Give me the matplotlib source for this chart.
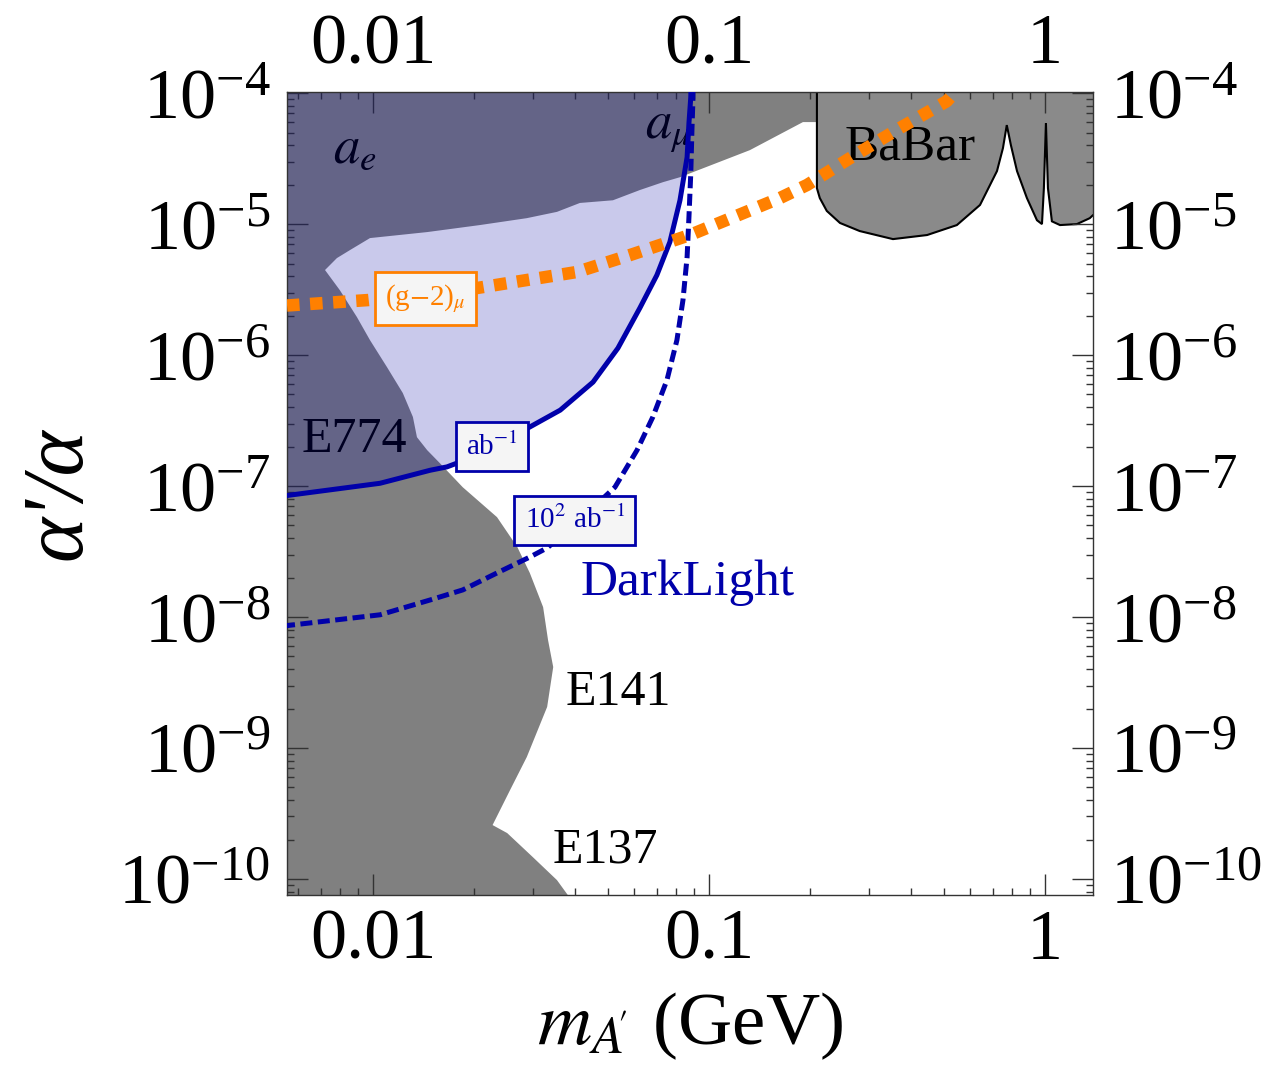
import matplotlib
matplotlib.use("Agg")
import matplotlib.pyplot as plt
from matplotlib.ticker import LogLocator, FixedLocator, FixedFormatter, LogFormatterMathtext, NullFormatter

plt.rcParams['font.family'] = ['Liberation Serif', 'DejaVu Serif']
plt.rcParams['mathtext.fontset'] = 'stix'

# axis ranges
x_lim = [0.00555, 1.39]
y_lim = [7.55e-11, 1.02e-4]

# excluded region (beam dumps E137/E141/E774, a_e, a_mu), traced counter-clockwise
excl_m = [0.001, 0.0395, 0.038, 0.0353, 0.0299, 0.0251, 0.0227, 0.0256, 0.0287, 0.0330, 0.0344, 0.0332,
          0.0321, 0.0293, 0.0269, 0.0234, 0.0185, 0.0158, 0.0145, 0.01352, 0.01315, 0.01227, 0.01101,
          0.0098, 0.00896, 0.00797, 0.0072, 0.00781, 0.00855, 0.0098, 0.0145, 0.0208, 0.0287, 0.0353,
          0.0413, 0.0518, 0.0623, 0.0730, 0.0820, 0.1324, 0.1905, 0.2096, 0.2096, 0.001]
excl_a = [1e-11, 6e-11, 7.55e-11, 9.8e-11, 1.47e-10, 2.24e-10, 2.58e-10, 4.78e-10, 8.53e-10, 2.06e-9, 4.15e-9,
          6.67e-9, 1.19e-8, 2.17e-8, 3.42e-8, 5.79e-8, 9.8e-8, 1.50e-7, 1.88e-7, 2.36e-7, 3.37e-7, 5.13e-7,
          8.09e-7, 1.30e-6, 1.95e-6, 3.13e-6, 4.46e-6, 5.5e-6, 6.34e-6, 7.82e-6, 8.69e-6, 9.83e-6, 1.11e-5,
          1.24e-5, 1.45e-5, 1.52e-5, 1.82e-5, 2.09e-5, 2.28e-5, 3.67e-5, 6.01e-5, 6.01e-5, 1e-3, 1e-3]

# BaBar exclusion
babar_m = [0.2096, 0.2096, 0.2138, 0.2243, 0.2455, 0.281, 0.353, 0.446, 0.547, 0.641, 0.720, 0.750, 0.770,
           0.792, 0.826, 0.884, 0.947, 0.980, 0.993, 1.007, 1.021, 1.049, 1.109, 1.245, 1.36, 1.39, 1.5, 1.5]
babar_a = [1e-3, 1.88e-5, 1.58e-5, 1.26e-5, 1.02e-5, 8.85e-6, 7.68e-6, 8.25e-6, 9.83e-6, 1.40e-5, 2.54e-5,
           3.80e-5, 5.70e-5, 4.01e-5, 2.54e-5, 1.58e-5, 1.07e-5, 1.0e-5, 1.88e-5, 5.91e-5, 1.88e-5, 1.05e-5,
           9.83e-6, 1.0e-5, 1.11e-5, 1.17e-5, 1.2e-5, 1e-3]

# DarkLight reach, 1 ab^-1 (solid) and 10^2 ab^-1 (dashed)
dl1_m = [0.0054, 0.0105, 0.0148, 0.0166, 0.0218, 0.0289, 0.0361, 0.0452, 0.0536, 0.0623, 0.0700, 0.0765,
         0.0820, 0.0861, 0.0872, 0.0883, 0.0886]
dl1_a = [8.39e-8, 1.05e-7, 1.32e-7, 1.40e-7, 1.82e-7, 2.77e-7, 3.80e-7, 6.22e-7, 1.13e-6, 2.29e-6, 4.08e-6,
         7.29e-6, 1.52e-5, 3.24e-5, 5.9e-5, 9.3e-5, 1.3e-4]
dl100_m = [0.0054, 0.0105, 0.0148, 0.0185, 0.0234, 0.0293, 0.0330, 0.0413, 0.0525, 0.0611, 0.0681, 0.0750,
           0.0803, 0.0837, 0.0861, 0.0872, 0.0883, 0.0890, 0.0896, 0.0897]
dl100_a = [8.53e-9, 1.04e-8, 1.35e-8, 1.61e-8, 2.17e-8, 2.87e-8, 3.37e-8, 5.5e-8, 9.8e-8, 1.88e-7, 3.37e-7,
           6.44e-7, 1.30e-6, 2.63e-6, 5.6e-6, 1.13e-5, 2.45e-5, 5.22e-5, 8.85e-5, 1.3e-4]

# (g-2)_mu favoured band
gm2_m = [0.00555, 0.00966, 0.0204, 0.0405, 0.0582, 0.0877, 0.1626, 0.196, 0.2686, 0.370, 0.511, 0.54]
gm2_a = [2.39e-6, 2.63e-6, 3.25e-6, 4.31e-6, 5.8e-6, 8.25e-6, 1.58e-5, 1.99e-5, 3.30e-5, 5.41e-5, 8.69e-5,
         1.02e-4]

x_ticks = [0.01, 0.1, 1]
x_tick_labels = ['0.01', '0.1', '1']
y_ticks = [1e-10, 1e-9, 1e-8, 1e-7, 1e-6, 1e-5, 1e-4]

fig = plt.figure(figsize=(12.74, 10.81), dpi=100)
ax = fig.add_axes([0.2253, 0.1721, 0.6326, 0.7428])
ax.set_xscale('log')
ax.set_yscale('log')

ax.fill(excl_m, excl_a, color='#808080', lw=0, zorder=1)
ax.fill(babar_m, babar_a, facecolor='#8a8a8a', edgecolor='black', lw=1.5, zorder=1)

# labels drawn under the DarkLight overlay
ax.text(0.00883, 3.67e-5, r'$a_e$', fontsize=38, color='black', ha='center', va='center', zorder=1.5)
ax.text(0.0755, 5.22e-5, r'$a_\mu$', fontsize=38, color='black', ha='center', va='center', zorder=1.5)
ax.text(0.00883, 2.24e-7, 'E774', fontsize=36, color='black', ha='center', va='center', zorder=1.5)
ax.text(0.396, 3.88e-5, 'BaBar', fontsize=37, color='black', ha='center', va='center', zorder=1.5)

# DarkLight 1 ab^-1 region
ax.fill(dl1_m + [0.001], dl1_a + [1e-3], color='#0000a4', alpha=0.21, lw=0, zorder=2)
ax.plot(dl1_m, dl1_a, color='#0000aa', lw=3.6, zorder=3)
ax.plot(dl100_m, dl100_a, color='#0000aa', lw=3.6, dashes=(2.4, 1.1), zorder=3)
ax.plot(gm2_m, gm2_a, color='#ff8000', lw=9, dashes=(1.0, 0.85), dash_capstyle='butt', zorder=3)

ax.text(0.0536, 2.63e-9, 'E141', fontsize=36, color='black', ha='center', va='center')
ax.text(0.0493, 1.66e-10, 'E137', fontsize=36, color='black', ha='center', va='center')
ax.text(0.0866, 1.82e-8, 'DarkLight', fontsize=37, color='#0000aa', ha='center', va='center')

box_g = dict(boxstyle='square,pad=0.35', facecolor='#f5f5f5', edgecolor='#ff8000', lw=2)
box_b = dict(boxstyle='square,pad=0.35', facecolor='#f5f5f5', edgecolor='#0000aa', lw=2)
ax.text(0.0143, 2.72e-6, r'(g$-$2)$_\mu$', fontsize=21, color='#ff8000', ha='center', va='center',
        bbox=box_g, zorder=4)
ax.text(0.0226, 1.99e-7, r'ab$^{-1}$', fontsize=21, color='#0000aa', ha='center', va='center',
        bbox=box_b, zorder=4)
ax.text(0.0399, 5.49e-8, r'10$^2$ ab$^{-1}$', fontsize=21, color='#0000aa', ha='center', va='center',
        bbox=box_b, zorder=4)

ax.set_xlim(x_lim)
ax.set_ylim(y_lim)

ax.xaxis.set_major_locator(FixedLocator(x_ticks))
ax.xaxis.set_major_formatter(FixedFormatter(x_tick_labels))
ax.xaxis.set_minor_locator(LogLocator(base=10, subs=range(2, 10), numticks=20))
ax.xaxis.set_minor_formatter(NullFormatter())
ax.yaxis.set_major_locator(FixedLocator(y_ticks))
ax.yaxis.set_major_formatter(LogFormatterMathtext())
ax.yaxis.set_minor_locator(LogLocator(base=10, subs=range(2, 10), numticks=20))
ax.yaxis.set_minor_formatter(NullFormatter())

ax.tick_params(which='both', direction='in', top=True, right=True, labeltop=True, labelright=True,
               color='#333333', width=1)
ax.tick_params(which='major', length=15, labelsize=52)
ax.tick_params(which='minor', length=5)
ax.tick_params(axis='x', which='major', pad=10)
ax.tick_params(axis='y', which='major', pad=12)
for s in ax.spines.values():
    s.set_color('#333333')
    s.set_linewidth(1)

ax.set_xlabel(r"$m_{A\!'}$ (GeV)", fontsize=54, labelpad=12)
ax.set_ylabel("α'/α", fontsize=62, fontstyle='italic', labelpad=14)

fig.savefig('out.png', dpi=100)
